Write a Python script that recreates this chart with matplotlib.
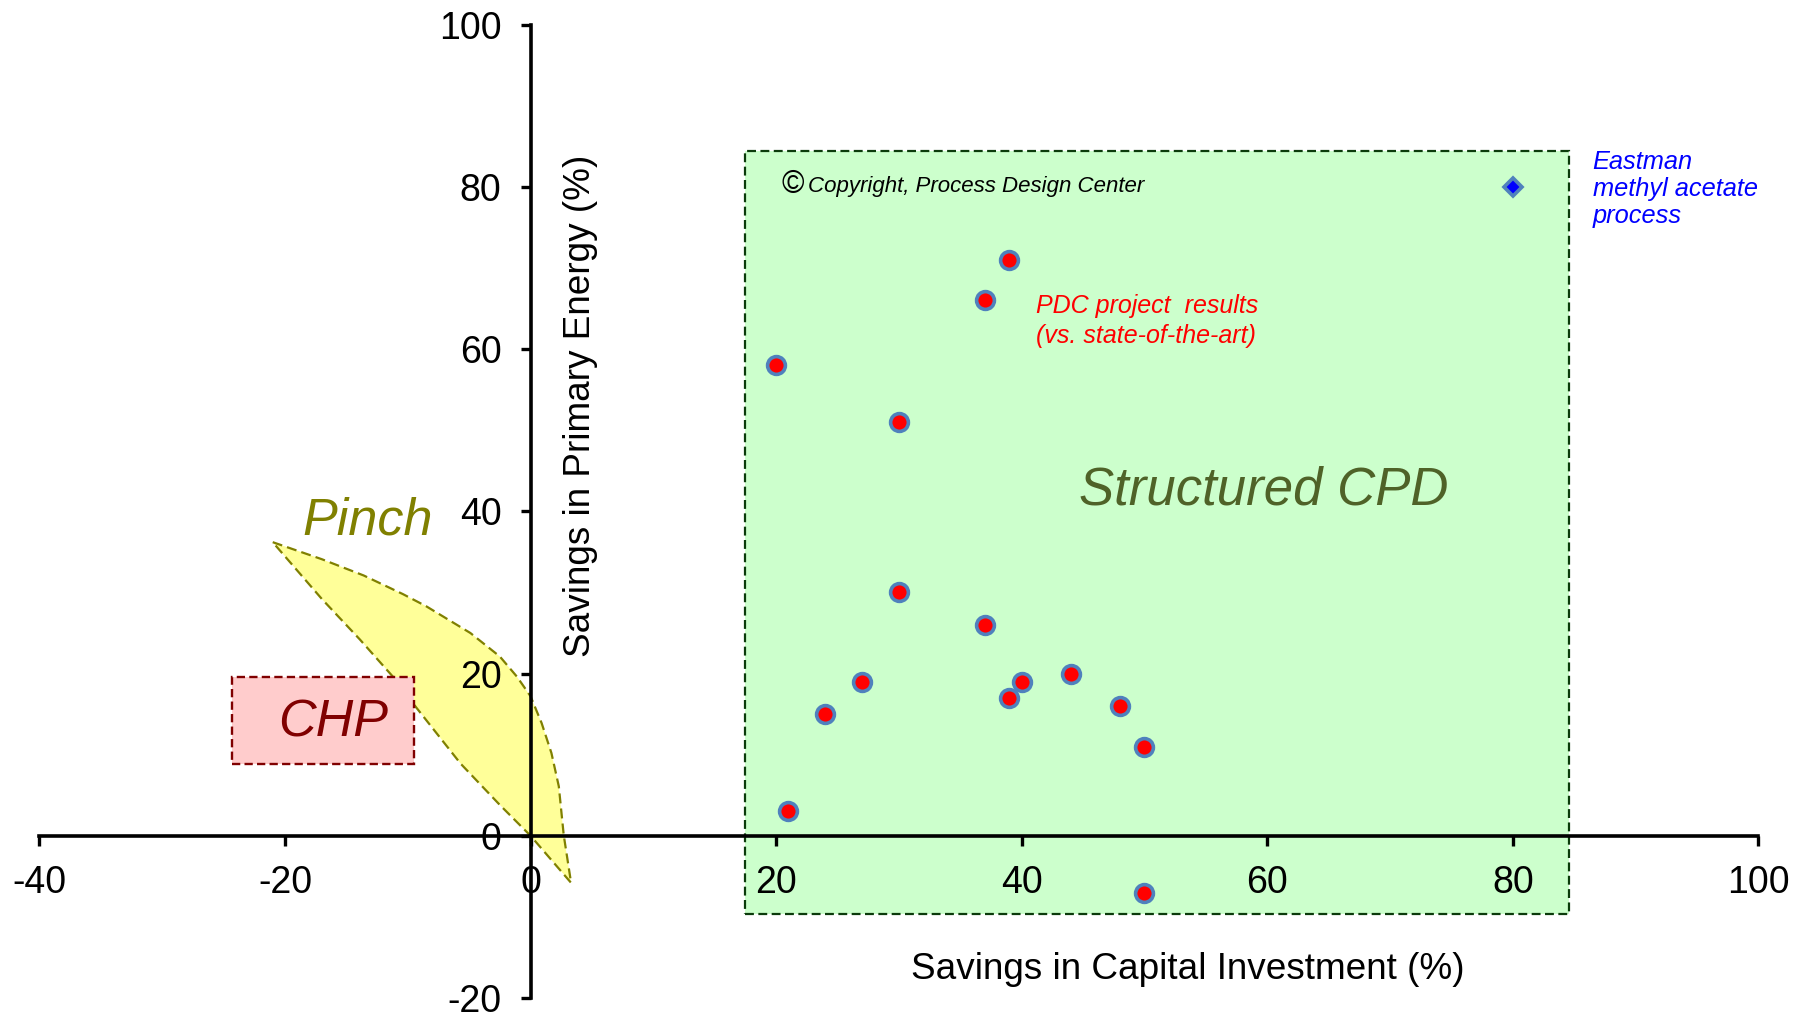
#!/usr/bin/env python3
import matplotlib
matplotlib.use("Agg")
import matplotlib.pyplot as plt
from matplotlib.patches import Polygon, Rectangle

plt.rcParams["font.family"] = ["Liberation Sans", "DejaVu Sans"]
plt.rcParams["axes.unicode_minus"] = False

# PDC project results: savings in capital (%) vs savings in primary energy (%)
pdc_x = [20, 21, 24, 27, 30, 30, 37, 37, 39, 39, 40, 44, 48, 50, 50]
pdc_y = [58, 3, 15, 19, 51, 30, 66, 26, 71, 17, 19, 20, 16, 11, -7]

# Eastman methyl acetate process
eastman_x = [80]
eastman_y = [80]

# Region outlines (data units)
cpd_box = (17.5, -9.7, 84.6, 84.4)   # x0, y0, x1, y1
chp_box = (-24.3, 8.9, -9.5, 19.6)

pinch_upper_x = [-21, -17, -13.6, -10.4, -8.5, -4.9, -2.5, -1.1, 0, 0.9, 1.7, 2.3, 2.7, 3.3]
pinch_upper_y = [36.2, 34.1, 32.1, 29.8, 28.3, 25, 22.1, 19.6, 17.2, 13.9, 10.2, 6.1, 0.1, -5.8]
pinch_lower_x = [3.3, 0, -2.5, -5.7, -9.3, -11.2, -13.9, -17, -21]
pinch_lower_y = [-5.8, 0, 3.8, 8.9, 15.8, 19.6, 24.2, 29.2, 36.2]

x_ticks = [-40, -20, 0, 20, 40, 60, 80, 100]
y_ticks = [-20, 0, 20, 40, 60, 80, 100]


def draw_regions(ax):
    x0, y0, x1, y1 = cpd_box
    ax.add_patch(Rectangle((x0, y0), x1 - x0, y1 - y0, facecolor="#CCFFCC",
                           edgecolor="#0B3B0B", linewidth=1.6,
                           linestyle=(0, (4, 2)), zorder=1))

    pts = list(zip(pinch_upper_x, pinch_upper_y)) + list(zip(pinch_lower_x, pinch_lower_y))
    ax.add_patch(Polygon(pts, closed=True, facecolor="#FFFF99",
                         edgecolor="#808000", linewidth=1.6,
                         linestyle=(0, (4.5, 2.3)), joinstyle="round", zorder=1.2))

    x0, y0, x1, y1 = chp_box
    ax.add_patch(Rectangle((x0, y0), x1 - x0, y1 - y0, facecolor="#FFCCCC",
                           edgecolor="#800000", linewidth=1.7,
                           linestyle=(0, (3.5, 1.8)), zorder=1.4))


def draw_labels(ax):
    ax.text(-13.3, 37.2, "Pinch", fontsize=37.5, style="italic",
            color="#808000", ha="center", va="baseline", zorder=4)
    ax.text(-16.1, 12.2, "CHP", fontsize=37.5, style="italic",
            color="#800000", ha="center", va="baseline", zorder=4)
    ax.text(59.7, 40.8, "Structured CPD", fontsize=38, style="italic",
            color="#4F6228", ha="center", va="baseline", zorder=4)
    # multi-line texts: baseline given for the last line
    ax.text(41.2, 60.75, "PDC project  results\n(vs. state-of-the-art)",
            fontsize=18, style="italic", color="#FF0000",
            ha="left", va="baseline", linespacing=1.3, zorder=4)
    ax.text(86.5, 75.5, "Eastman\nmethyl acetate\nprocess", fontsize=18.3,
            style="italic", color="#0000FF", ha="left", va="baseline",
            linespacing=1.18, zorder=4)
    ax.text(20.4, 79.3, "\u00a9", fontsize=22, color="black",
            ha="left", va="baseline", zorder=4)
    ax.text(22.6, 79.4, "Copyright, Process Design Center", fontsize=16,
            style="italic", color="black", ha="left", va="baseline", zorder=4)


def main():
    fig = plt.figure(figsize=(18, 10.16), dpi=100)
    ax = fig.add_axes([0.0219, 0.0177, 0.955, 0.958])
    ax.set_xlim(-40, 100)
    ax.set_ylim(-20, 100)

    for side in ("top", "right"):
        ax.spines[side].set_visible(False)
    ax.spines["left"].set_position(("data", 0))
    ax.spines["bottom"].set_position(("data", 0))
    for side in ("left", "bottom"):
        ax.spines[side].set_linewidth(2.6)
        ax.spines[side].set_zorder(2.5)

    ax.set_xticks(x_ticks)
    ax.set_yticks(y_ticks)
    ax.tick_params(direction="out", length=7, width=2.4, labelsize=27)
    ax.tick_params(axis="x", pad=14)
    ax.tick_params(axis="y", pad=14)

    draw_regions(ax)

    ax.plot(pdc_x, pdc_y, linestyle="none", marker="o", markersize=12.8,
            markerfacecolor="#FF0000", markeredgecolor="#4F81BD",
            markeredgewidth=2.6, zorder=3)
    ax.plot(eastman_x, eastman_y, linestyle="none", marker="D", markersize=9.5,
            markerfacecolor="#0000FF", markeredgecolor="#4F81BD",
            markeredgewidth=2.6, zorder=3)

    draw_labels(ax)

    ax.set_xlabel("Savings in Capital Investment (%)", fontsize=26.6)
    ax.xaxis.set_label_coords(0.668, 0.029)
    ax.xaxis.label.set_va("center")
    ax.set_ylabel("Savings in Primary Energy (%)", fontsize=26.6)
    ax.yaxis.set_label_coords(0.315, 0.608)
    ax.yaxis.label.set_va("center")
    ax.yaxis.label.set_ha("center")

    fig.savefig("out.png", dpi=100)
    plt.close(fig)


if __name__ == "__main__":
    main()
